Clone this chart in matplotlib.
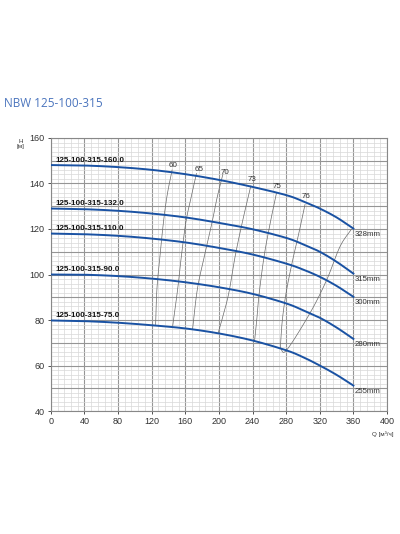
import matplotlib.pyplot as plt
from matplotlib.ticker import MultipleLocator
import numpy as np

plt.rcParams['font.family'] = ['Liberation Sans', 'DejaVu Sans']

# pump curves: flow Q [m3/h] vs head H [m]
q = [0, 40, 80, 120, 160, 200, 240, 280, 300, 320, 340, 360]
h_328 = [148.1, 147.9, 147.2, 146.0, 144.1, 141.6, 138.5, 134.9, 132.2, 129.0, 125.1, 120.2]
h_315 = [129.0, 128.7, 128.0, 126.8, 125.1, 122.7, 119.9, 116.1, 113.3, 110.0, 105.6, 100.4]
h_300 = [118.0, 117.7, 117.0, 115.8, 114.1, 111.7, 108.8, 104.8, 102.2, 99.0, 95.0, 90.2]
h_280 = [100.0, 99.9, 99.3, 98.2, 96.6, 94.4, 91.5, 87.3, 84.3, 81.0, 76.7, 71.7]
h_255 = [79.8, 79.5, 78.8, 77.7, 76.3, 74.1, 71.0, 66.7, 63.7, 60.0, 55.9, 51.2]
curves = [h_328, h_315, h_300, h_280, h_255]
models = ['125-100-315-160.0', '125-100-315-132.0', '125-100-315-110.0',
          '125-100-315-90.0', '125-100-315-75.0']
diams = ['328mm', '315mm', '300mm', '280mm', '255mm']

# iso-efficiency lines (76 has two branches meeting at the bottom)
eff_labels = ['60', '65', '70', '73', '75', '76']
eff_q = [
    [[144.3, 138.5, 134.1, 130.0, 126.3, 124.7]],
    [[173.3, 167.0, 160.8, 155.5, 151.0, 145.0]],
    [[204.7, 198.0, 192.0, 183.0, 174.5, 168.6]],
    [[238.0, 228.5, 219.6, 211.8, 205.0, 199.2]],
    [[268.6, 261.0, 254.0, 248.0, 245.0, 242.4]],
    [[302.5, 295.0, 287.0, 280.0, 275.5, 273.0],
     [273.0, 280.6, 308.3, 328.2, 344.0, 357.6]],
]
eff_h = [
    [[145.9, 135.0, 123.2, 108.5, 93.8, 78.0]],
    [[144.4, 134.0, 123.2, 108.5, 93.8, 77.3]],
    [[144.0, 134.0, 123.2, 108.5, 93.8, 75.8]],
    [[139.0, 124.0, 108.5, 91.9, 82.0, 74.4]],
    [[136.0, 122.5, 108.5, 91.9, 80.0, 70.7]],
    [[130.8, 118.0, 105.0, 92.0, 80.0, 67.5],
     [67.5, 66.8, 83.0, 97.6, 112.2, 119.9]],
]
eff_label_pos = [(145.9, 148.1), (176.5, 146.3), (207.0, 144.8),
                 (240.0, 141.9), (269.8, 138.5), (303.9, 134.1)]


def smooth(x, y, n=12):
    # catmull-rom path through the read points, only for drawing
    p = np.column_stack([x, y]).astype(float)
    p = np.vstack([2 * p[0] - p[1], p, 2 * p[-1] - p[-2]])
    t = np.linspace(0, 1, n, endpoint=False)[:, None]
    out = []
    for i in range(1, len(p) - 2):
        p0, p1, p2, p3 = p[i - 1], p[i], p[i + 1], p[i + 2]
        seg = 0.5 * ((2 * p1) + (-p0 + p2) * t + (2 * p0 - 5 * p1 + 4 * p2 - p3) * t ** 2
                     + (-p0 + 3 * p1 - 3 * p2 + p3) * t ** 3)
        out.append(seg)
    out.append(p[-2][None, :])
    out = np.vstack(out)
    return out[:, 0], out[:, 1]


fig = plt.figure(figsize=(4, 5.34), dpi=100)
ax = fig.add_axes([0.127, 0.2303, 0.8405, 0.5113])

blue = '#1a52a3'
for branches_q, branches_h in zip(eff_q, eff_h):
    for bq, bh in zip(branches_q, branches_h):
        sx, sy = smooth(bq, bh)
        ax.plot(sx, sy, color='#6a6a6a', lw=0.5, zorder=3)
for lab, (lx, ly) in zip(eff_labels, eff_label_pos):
    ax.text(lx, ly, lab, fontsize=5.8, color='#333333', ha='center', va='center', zorder=5)

for hh, m, d in zip(curves, models, diams):
    sx, sy = smooth(q, hh)
    ax.plot(sx, sy, color=blue, lw=1.4, zorder=4)
    ax.text(5, hh[0] + 0.6, m, fontsize=5.8, fontweight='bold', color='#111111',
            ha='left', va='bottom', zorder=5)
    ax.text(361, hh[-1] - 2.6, d, fontsize=5.6, color='#333333',
            ha='left', va='center', zorder=5)

ax.set_xlim(0, 400)
ax.set_ylim(40, 160)
ax.xaxis.set_major_locator(MultipleLocator(40))
ax.xaxis.set_minor_locator(MultipleLocator(8))
ax.yaxis.set_major_locator(MultipleLocator(20))
ax.yaxis.set_minor_locator(MultipleLocator(2))
ax.grid(which='major', color='#959595', lw=0.8, zorder=1)
ax.grid(which='minor', color='#d8d8d8', lw=0.5, zorder=0)
for yy in range(50, 160, 20):
    ax.axhline(yy, color='#959595', lw=0.8, zorder=1)
ax.set_axisbelow(True)
ax.tick_params(which='major', labelsize=6.5, length=2.5, width=0.6, colors='#333333', pad=2)
ax.tick_params(which='minor', length=0)
for s in ax.spines.values():
    s.set_color('#888888')
    s.set_linewidth(0.8)

fig.text(0.01, 0.807, 'NBW 125-100-315', fontsize=8.5, color='#4a74bd',
         family='Open Sans', ha='left', va='center')
fig.text(0.052, 0.731, 'H\n[м]', fontsize=4.5, color='#333333', ha='center', va='center',
         linespacing=1.0)
fig.text(0.957, 0.187, 'Q [м³/ч]', fontsize=4.5, color='#333333', ha='center', va='center')

fig.savefig('out.png', dpi=100)
